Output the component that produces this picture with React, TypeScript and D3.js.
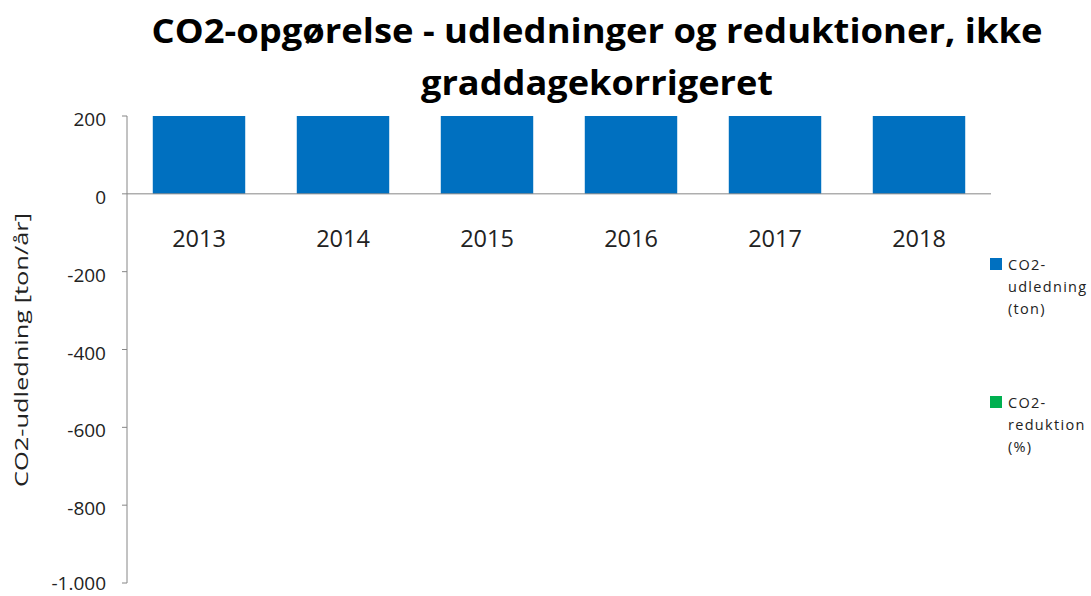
import React from "react";
import * as d3 from "d3";

const categories = ["2013", "2014", "2015", "2016", "2017", "2018"];
const emissions = [200, 200, 200, 200, 200, 200];
const reductions = [0, 0, 0, 0, 0, 0];
const yTicks = [200, 0, -200, -400, -600, -800, -1000];
const legendItems = [
  { lines: ["CO2-", "udledning", "(ton)"], color: "#0070C0" },
  { lines: ["CO2-", "reduktion", "(%)"], color: "#00B050" },
];
const titleLines = ["CO2-opgørelse - udledninger og reduktioner, ikke", "graddagekorrigeret"];
const titleLengths = [891, 352];

const W = 1091, H = 596;
const plot = { left: 127, right: 991, top: 116, bottom: 583 };
const FONT = "'Open Sans', Lato, sans-serif";

export default function App() {
  const x = d3.scaleBand<string>().domain(categories).range([plot.left, plot.right]).paddingInner(0.358).paddingOuter(0.179);
  const y = d3.scaleLinear().domain([-1000, 200]).range([plot.bottom, plot.top]);
  const fmt = (v: number) => (v < 0 ? "-" : "") + d3.format(",")(Math.abs(v)).replace(/,/g, ".");
  return (
    <svg width={W} height={H} style={{ position: "absolute", left: 0, top: 0, background: "#fff" }} fontFamily={FONT}>
      {titleLines.map((t, i) => (
        <text key={i} x={597} y={43 + i * 52} textAnchor="middle" fontSize={34} fontWeight="bold" fill="#000"
          textLength={titleLengths[i]} lengthAdjust="spacingAndGlyphs">{t}</text>
      ))}
      {categories.map((c, i) => (
        <rect key={c} x={x(c)} width={x.bandwidth()} y={y(Math.max(0, emissions[i]))} height={Math.abs(y(emissions[i]) - y(0))} fill="#0070C0" />
      ))}
      {categories.map((c, i) => (
        <rect key={"r" + c} x={x(c)} width={x.bandwidth()} y={y(Math.max(0, reductions[i]))} height={Math.abs(y(reductions[i]) - y(0))} fill="#00B050" />
      ))}
      <line x1={plot.left} x2={plot.left} y1={y(200)} y2={y(-1000)} stroke="#868686" strokeWidth={1} />
      {yTicks.map((t) => (
        <g key={t}>
          <line x1={plot.left - 5} x2={plot.left} y1={y(t)} y2={y(t)} stroke="#868686" />
          <text x={106} y={Math.min(y(t) + 10, H - 6)} textAnchor="end" fontSize={19} fill="#222">{fmt(t)}</text>
        </g>
      ))}
      <line x1={plot.left} x2={plot.right} y1={y(0)} y2={y(0)} stroke="#868686" />
      {categories.map((c) => (
        <text key={"l" + c} x={(x(c) as number) + x.bandwidth() / 2} y={247} textAnchor="middle" fontSize={23.5} fill="#222">{c}</text>
      ))}
      <text transform={`translate(28,${350}) rotate(-90)`} textAnchor="middle" fontSize={18.5} fill="#222"
        textLength={274} lengthAdjust="spacingAndGlyphs">CO2-udledning [ton/år]</text>
      {legendItems.map((it, i) => (
        <g key={i} transform={`translate(990,${258 + i * 138})`}>
          <rect x={0} y={0} width={12} height={12} fill={it.color} />
          {it.lines.map((l, j) => (
            <text key={j} x={18} y={12 + j * 22} fontSize={14.5} letterSpacing={1.3} fill="#222">{l}</text>
          ))}
        </g>
      ))}
    </svg>
  );
}
